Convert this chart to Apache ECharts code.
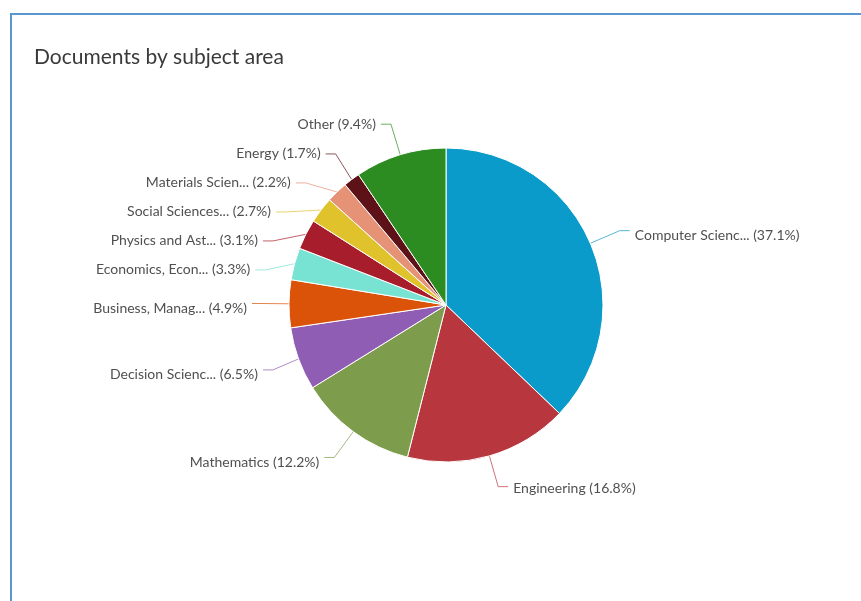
<!DOCTYPE html>
<html><head><meta charset="utf-8">
<script src="https://cdn.jsdelivr.net/npm/echarts@6/dist/echarts.min.js"></script>
<style>
html,body{margin:0;padding:0;background:#fff;}
#frame{position:absolute;left:10px;top:13px;width:900px;height:700px;border-left:2px solid #5b97cf;border-top:2px solid #5b97cf;}
#c{position:absolute;left:0;top:0;width:861px;height:601px;}
</style></head>
<body>
<div id="frame"></div>
<div id="c"></div>
<script>
const categories = ["Computer Scienc...","Engineering","Mathematics","Decision Scienc...","Business, Manag...","Economics, Econ...","Physics and Ast...","Social Sciences...","Materials Scien...","Energy","Other"];
const percents = [37.1,16.8,12.2,6.5,4.9,3.3,3.1,2.7,2.2,1.7,9.4];
const colors = ["#0a9bcb","#b8363e","#7d9d4c","#8f5db3","#db5209","#78e3d2","#a81d2c","#dfc22c","#e59277","#5d1217","#2c8c22"];

const chart = echarts.init(document.getElementById('c'), null, {renderer:'canvas'});
chart.setOption({
  backgroundColor:'transparent',
  title:{text:'Documents by subject area',left:29,top:42,textStyle:{fontFamily:'Lato',fontSize:21,fontWeight:'normal',color:'#3a3a3a'}},
  series:[{
    type:'pie',
    center:[446,305],
    radius:157,
    startAngle:90,
    clockwise:true,
    avoidLabelOverlap:true,
    itemStyle:{borderColor:'#fff',borderWidth:1},
    label:{show:true,fontFamily:'Lato',fontSize:14,lineHeight:27,color:'#505050',
      formatter:p=>p.name+' ('+p.value+'%)'},
    labelLine:{show:true,length:32,length2:10,lineStyle:{width:1,opacity:0.7}},
    labelLayout:p=>(p.dataIndex<5?{dy:(p.dataIndex===1?2:5)}:{dy:0}),
    data:categories.map((n,i)=>({name:n,value:percents[i],itemStyle:{color:colors[i]}}))
  }]
});
</script>
</body></html>
